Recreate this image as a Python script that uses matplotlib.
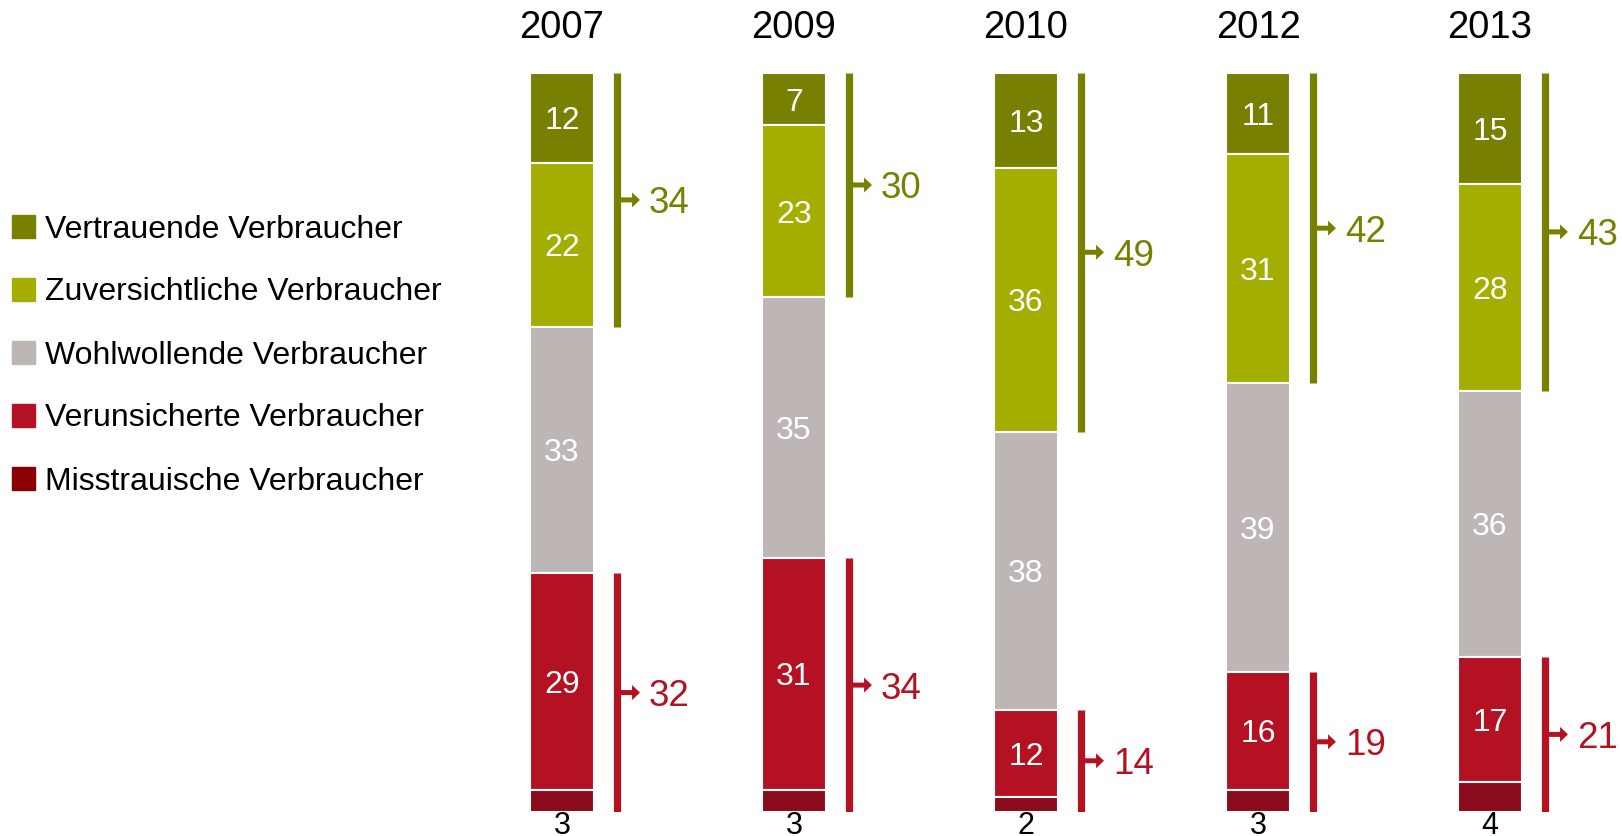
import numpy as np
import matplotlib
matplotlib.use('Agg')
import matplotlib.pyplot as plt
from matplotlib.patches import Rectangle, FancyArrow

plt.rcParams['font.family'] = ['Liberation Sans', 'DejaVu Sans']

years = ["2007", "2009", "2010", "2012", "2013"]
categories = ["Vertrauende Verbraucher", "Zuversichtliche Verbraucher",
              "Wohlwollende Verbraucher", "Verunsicherte Verbraucher",
              "Misstrauische Verbraucher"]
vertrauend = [12, 7, 13, 11, 15]
zuversichtlich = [22, 23, 36, 31, 28]
wohlwollend = [33, 35, 38, 39, 36]
verunsichert = [29, 31, 12, 16, 17]
misstrauisch = [3, 3, 2, 3, 4]

colors = ["#778000", "#a3ae00", "#beb6b4", "#b41123", "#8a0c1c"]
legend_colors = ["#778000", "#a3ae00", "#beb6b4", "#b41123", "#8b0000"]
green_txt = "#778000"
red_txt = "#b41123"

W, H = 1622, 836
fig = plt.figure(figsize=(W / 100, H / 100), dpi=100)
# bar area: 73..812 px vertically, column centres every 232 px starting at 562
ax = fig.add_axes([446 / W, (H - 812) / H, 1160 / W, 739 / H])
ax.set_xlim(-0.5, 4.5)
ax.set_ylim(100, 0)
ax.axis('off')

data = np.array([vertrauend, zuversichtlich, wohlwollend, verunsichert, misstrauisch], dtype=float)
totals = data.sum(axis=0)
share = data / totals * 100  # each column fills the full height
x = np.arange(len(years))
bw = 0.276

bottoms = np.zeros(len(years))
for i in range(len(categories)):
    ax.bar(x, share[i], bw, bottom=bottoms, color=colors[i],
           edgecolor='white', linewidth=1.5, align='center')
    for j in range(len(years)):
        mid = bottoms[j] + share[i][j] / 2
        if i < 4:
            ax.text(x[j], mid, f"{int(data[i][j])}", ha='center', va='center_baseline',
                    color='white', fontsize=23)
    bottoms += share[i]

# value of the smallest segment sits below each bar
for j in range(len(years)):
    ax.annotate(f"{int(misstrauisch[j])}", (x[j], 100), xytext=(0, -15.5),
                textcoords='offset points', ha='center', va='baseline',
                fontsize=22, color='black', annotation_clip=False)
    ax.annotate(years[j], (x[j], 0), xytext=(0, 25), textcoords='offset points',
                ha='center', va='baseline', fontsize=27.5, color='black',
                annotation_clip=False)

# brackets: top two groups (positive) and bottom two groups (negative)
bx_off = 0.237
px_y = 100 / 739
for j in range(len(years)):
    bx = x[j] + bx_off
    groups = [
        (0, share[0][j] + share[1][j], vertrauend[j] + zuversichtlich[j], green_txt),
        (100 - share[3][j] - share[4][j], 100, verunsichert[j] + misstrauisch[j], red_txt),
    ]
    for y0, y1, tot, c in groups:
        ax.plot([bx, bx], [y0, y1], color=c, linewidth=5.2, solid_capstyle='butt')
        ym = (y0 + y1) / 2
        arr = FancyArrow(bx, ym, 0.099, 0, width=5 * px_y, head_width=15 * px_y,
                         head_length=0.034, length_includes_head=True,
                         color=c, linewidth=0)
        ax.add_patch(arr)
        ax.text(bx + 0.138, ym, f"{tot:.0f}", ha='left', va='center_baseline',
                fontsize=26.5, color=c)

# legend
row_y = [226, 289, 352, 415, 478]
for cat, c, ry in zip(categories, legend_colors, row_y):
    fig.patches.append(Rectangle((12 / W, (H - ry - 11.5) / H), 23 / W, 23 / H,
                                 transform=fig.transFigure, color=c))
    fig.text(45 / W, (H - ry) / H, cat, ha='left', va='center_baseline', fontsize=23)

plt.savefig("out.png", dpi=100)
